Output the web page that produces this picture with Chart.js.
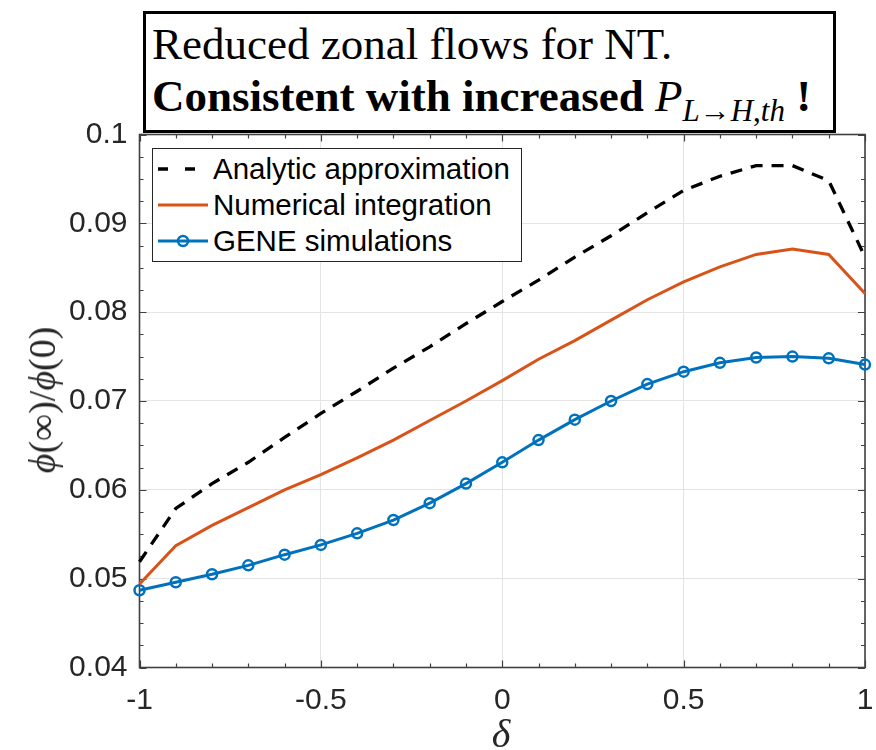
<!DOCTYPE html>
<html>
<head>
<meta charset="utf-8">
<script src="https://cdn.jsdelivr.net/npm/chart.js@4.4.0/dist/chart.umd.min.js"></script>
<style>
  body { margin: 0; background: #fff; }
  #wrap { position: relative; width: 876px; height: 750px; overflow: hidden; }
  #c { position: absolute; left: 0; top: 0; }
  #titlebox {
    position: absolute; left: 143px; top: 11px; width: 693px; height: 122px;
    box-sizing: border-box; border: 3px solid #000; background: #fff;
    font-family: 'Liberation Serif', 'Times New Roman', serif; color: #000;
  }
  #titlebox .l { position: absolute; left: 6px; font-size: 45px; line-height: 45px; white-space: nowrap; }
  #titlebox .l1 { top: 8px; }
  #titlebox .l2 { top: 60px; }
  #titlebox sub { font-size: 31px; line-height: 45px; vertical-align: -10px; }
  #legend {
    position: absolute; left: 152px; top: 148px; width: 370px; height: 114px;
    box-sizing: border-box; border: 1px solid #262626; background: #fff;
    font-family: 'Liberation Sans', Arial, sans-serif; font-size: 29.5px; color: #000;
    padding-top: 2px;
  }
  #legend .row { position: relative; height: 36px; }
  #legend svg { position: absolute; left: 5px; top: 0; }
  #legend span { position: absolute; left: 60px; top: 0; line-height: 36px; white-space: nowrap; }
  #ylab {
    position: absolute; left: 42px; top: 400px; transform: translate(-50%, -50%) rotate(-90deg);
    font-family: 'Liberation Serif', 'Times New Roman', serif; font-size: 38px; white-space: nowrap; color: #262626;
  }
  #xlab {
    position: absolute; left: 501px; top: 733px; transform: translate(-50%, -50%);
    font-family: 'Liberation Serif', 'Times New Roman', serif; font-size: 40px; font-style: italic; color: #262626;
  }
</style>
</head>
<body>
<div id="wrap">
  <canvas id="c" width="876" height="750"></canvas>
  <div id="titlebox">
    <div class="l l1">Reduced zonal flows for NT.</div>
    <div class="l l2"><b>Consistent with increased </b><i>P</i><sub><i>L</i>→<i>H</i>,<i>th</i></sub><b> !</b></div>
  </div>
  <div id="legend"></div>
  <div id="ylab"><i>ϕ</i>(∞)/<i>ϕ</i>(0)</div>
  <div id="xlab">δ</div>
</div>
<script>
// shaping parameter delta
const delta = [-1, -0.9, -0.8, -0.7, -0.6, -0.5, -0.4, -0.3, -0.2, -0.1, 0,
               0.1, 0.2, 0.3, 0.4, 0.5, 0.6, 0.7, 0.8, 0.9, 1];
const analytic = [0.0519, 0.0579, 0.0607, 0.0631, 0.0659, 0.0686, 0.0711, 0.0737, 0.0761, 0.0787, 0.0812,
                  0.0836, 0.0862, 0.0886, 0.0912, 0.0937, 0.0953, 0.0965, 0.0965, 0.0948, 0.0862];
const numerical = [0.0494, 0.0537, 0.0560, 0.0580, 0.0600, 0.0617, 0.0636, 0.0656, 0.0678, 0.0700, 0.0723,
                   0.0747, 0.0768, 0.0791, 0.0814, 0.0834, 0.0851, 0.0865, 0.0871, 0.0865, 0.0821];
const gene = [0.0487, 0.0496, 0.0505, 0.0515, 0.0527, 0.0538, 0.0551, 0.0566, 0.0585, 0.0607, 0.0631,
              0.0656, 0.0679, 0.0700, 0.0719, 0.0733, 0.0743, 0.0749, 0.0750, 0.0748, 0.0741];
const seriesNames = ['Analytic approximation', 'Numerical integration', 'GENE simulations'];

const xTicks = [-1, -0.5, 0, 0.5, 1];
const xTickLabels = ['-1', '-0.5', '0', '0.5', '1'];
const yTicks = [0.04, 0.05, 0.06, 0.07, 0.08, 0.09, 0.1];
const yTickLabels = ['0.04', '0.05', '0.06', '0.07', '0.08', '0.09', '0.1'];

const BLUE = '#0072BD', ORANGE = '#D95319', AXIS = '#404040';

function pts(ys) {
  return delta.map((d, i) => ({ x: d, y: ys[i] }));
}

// MATLAB style inward ticks on all four sides + box
const axisBox = {
  id: 'axisBox',
  beforeDatasetsDraw(chart) {
    const { ctx, chartArea: a, scales: { x, y } } = chart;
    ctx.save();
    ctx.strokeStyle = AXIS;
    ctx.lineWidth = 1.2;
    ctx.beginPath();
    for (let k = 0; k <= 20; k++) {
      const v = -1 + k * 0.1;
      const px = Math.round(x.getPixelForValue(v)) + 0.5;
      const len = k % 5 === 0 ? 7 : 4;
      ctx.moveTo(px, a.bottom); ctx.lineTo(px, a.bottom - len);
      ctx.moveTo(px, a.top); ctx.lineTo(px, a.top + len);
    }
    for (let k = 0; k <= 24; k++) {
      const v = 0.04 + k * 0.0025;
      const py = Math.round(y.getPixelForValue(v)) + 0.5;
      const len = k % 4 === 0 ? 7 : 4;
      ctx.moveTo(a.left, py); ctx.lineTo(a.left + len, py);
      ctx.moveTo(a.right, py); ctx.lineTo(a.right - len, py);
    }
    ctx.stroke();
    ctx.lineWidth = 1.6;
    ctx.strokeRect(a.left, a.top, a.right - a.left, a.bottom - a.top);
    ctx.restore();
  }
};

new Chart(document.getElementById('c'), {
  type: 'line',
  data: {
    datasets: [
      { label: seriesNames[0], data: pts(analytic), borderColor: '#000', borderWidth: 3.3,
        borderDash: [12, 9], pointRadius: 0, clip: false },
      { label: seriesNames[1], data: pts(numerical), borderColor: ORANGE, borderWidth: 3,
        pointRadius: 0, clip: false },
      { label: seriesNames[2], data: pts(gene), borderColor: BLUE, borderWidth: 3,
        pointRadius: 5, pointBorderWidth: 2.5, pointBorderColor: BLUE,
        pointBackgroundColor: 'rgba(0,0,0,0)', clip: false }
    ]
  },
  options: {
    responsive: false,
    animation: false,
    layout: { padding: { top: 134.5, right: 11, left: 0, bottom: 0 } },
    plugins: { legend: { display: false }, tooltip: { enabled: false } },
    scales: {
      x: {
        type: 'linear', min: -1, max: 1,
        afterBuildTicks: s => { s.ticks = xTicks.map(v => ({ value: v })); },
        afterFit: s => { s.height = 82.5; s.paddingLeft = 0; s.paddingRight = 0; },
        ticks: { callback: (v, i) => xTickLabels[i], color: '#262626', padding: 15,
                 maxRotation: 0, font: { size: 30, family: "'Liberation Sans', Arial, sans-serif" } },
        grid: { color: '#e4e4e4', lineWidth: 1, drawTicks: false },
        border: { display: false }
      },
      y: {
        type: 'linear', min: 0.04, max: 0.1,
        afterBuildTicks: s => { s.ticks = yTicks.map(v => ({ value: v })); },
        afterFit: s => { s.width = 139.5; s.paddingTop = 0; s.paddingBottom = 0; },
        ticks: { callback: (v, i) => yTickLabels[i], color: '#262626', padding: 12,
                 font: { size: 30, family: "'Liberation Sans', Arial, sans-serif" } },
        grid: { color: '#e4e4e4', lineWidth: 1, drawTicks: false },
        border: { display: false }
      }
    }
  },
  plugins: [axisBox]
});

// legend built from the series names
const legendStyles = [
  '<line x1="0" y1="18" x2="50" y2="18" stroke="#000" stroke-width="3.3" stroke-dasharray="10 17"/>',
  '<line x1="0" y1="18" x2="50" y2="18" stroke="' + ORANGE + '" stroke-width="3"/>',
  '<line x1="0" y1="18" x2="50" y2="18" stroke="' + BLUE + '" stroke-width="3"/><circle cx="25" cy="18" r="5" fill="none" stroke="' + BLUE + '" stroke-width="2.5"/>'
];
document.getElementById('legend').innerHTML = seriesNames.map((n, i) =>
  '<div class="row"><svg width="56" height="36">' + legendStyles[i] + '</svg><span>' + n + '</span></div>'
).join('');
</script>
</body>
</html>
